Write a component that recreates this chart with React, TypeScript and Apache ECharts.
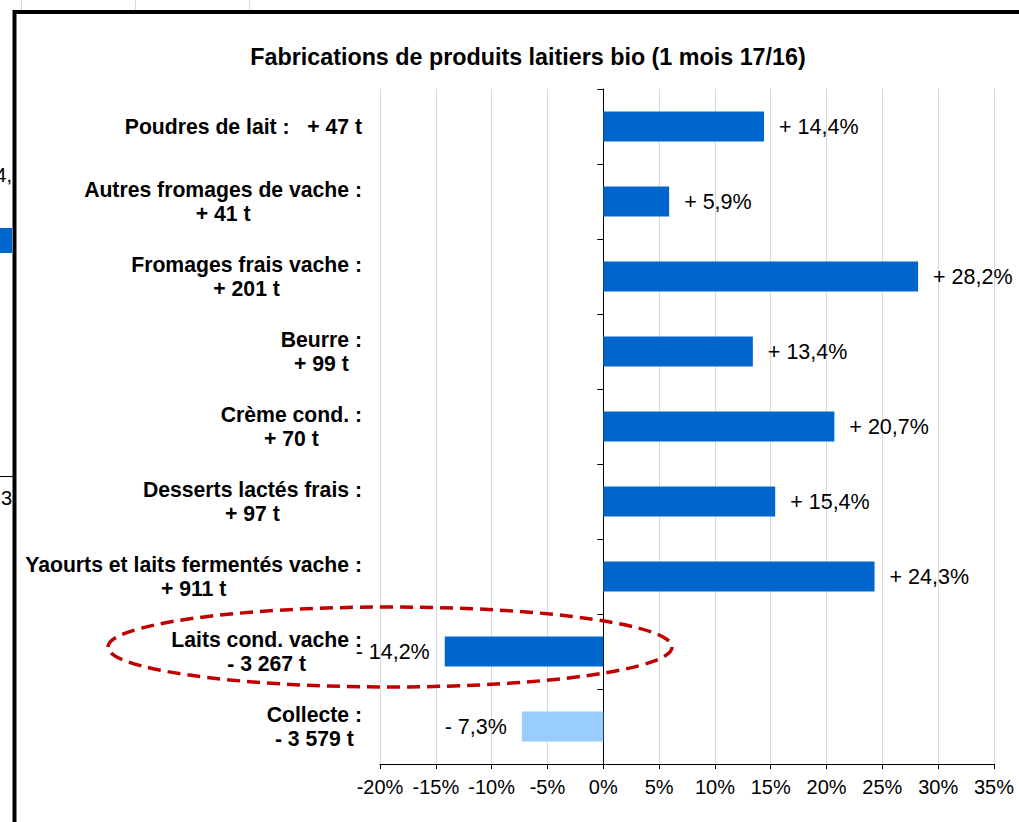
import React, { useEffect, useRef } from "react";
import * as echarts from "echarts";

const chartTitle = "Fabrications de produits laitiers bio (1 mois 17/16)";

const categories = [
  "Poudres de lait :   + 47 t",
  "Autres fromages de vache :\n+ 41 t",
  "Fromages frais vache :\n+ 201 t",
  "Beurre :\n+ 99 t",
  "Crème cond. :\n+ 70 t",
  "Desserts lactés frais :\n+ 97 t",
  "Yaourts et laits fermentés vache :\n+ 911 t",
  "Laits cond. vache :\n- 3 267 t",
  "Collecte :\n- 3 579 t",
];

const values = [14.4, 5.9, 28.2, 13.4, 20.7, 15.4, 24.3, -14.2, -7.3];

const barColors = [
  "#0066CC",
  "#0066CC",
  "#0066CC",
  "#0066CC",
  "#0066CC",
  "#0066CC",
  "#0066CC",
  "#0066CC",
  "#99CCFF",
];

const axisMin = -20;
const axisMax = 35;
const axisStep = 5;

const FONT = "'Liberation Sans', Arial, Helvetica, sans-serif";

export default function App() {
  const ref = useRef<HTMLDivElement>(null);

  useEffect(() => {
    document.body.style.margin = "0";
    const el = ref.current;
    if (!el) return;
    const chart = echarts.init(el, null, { renderer: "svg" });

    const fmtPct = (v: number) =>
      (v >= 0 ? "+ " : "- ") + Math.abs(v).toFixed(1).replace(".", ",") + "%";

    const option: any = {
      animation: false,
      backgroundColor: "#ffffff",
      textStyle: { fontFamily: FONT, color: "#000" },
      title: {
        text: chartTitle,
        left: 523,
        top: 40,
        textAlign: "center",
        textStyle: {
          fontFamily: FONT,
          fontSize: 23.3,
          fontWeight: "bold",
          color: "#000",
        },
      },
      grid: { left: 380, right: 25, top: 89, bottom: 58, containLabel: false },
      xAxis: {
        type: "value",
        min: axisMin,
        max: axisMax,
        interval: axisStep,
        axisLine: { show: true, onZero: false, lineStyle: { color: "#000", width: 1 } },
        axisTick: { show: true, length: 5, lineStyle: { color: "#000" } },
        axisLabel: {
          formatter: (v: number) => `${v}%`,
          fontFamily: FONT,
          fontSize: 20,
          color: "#000",
          margin: 13,
        },
        splitLine: { show: true, lineStyle: { color: "#D9D9D9", width: 1 } },
      },
      yAxis: [
        {
          type: "category",
          data: categories,
          inverse: true,
          position: "left",
          axisLine: { show: false, onZero: false },
          axisTick: { show: false },
          splitLine: { show: false },
          axisLabel: {
            align: "right",
            margin: 18,
            interval: 0,
            formatter: (v: string) =>
              v
                .split("\n")
                .map((l) => `{c|${l}}`)
                .join("\n"),
            rich: {
              c: {
                align: "center",
                fontFamily: FONT,
                fontWeight: "bold",
                fontSize: 21.2,
                lineHeight: 24,
                color: "#000",
              },
            },
          },
        },
        {
          type: "category",
          data: categories,
          inverse: true,
          position: "left",
          axisLine: { show: true, onZero: true, lineStyle: { color: "#000", width: 1 } },
          axisTick: { show: true, length: 6, inside: false, lineStyle: { color: "#000" } },
          axisLabel: { show: false },
          splitLine: { show: false },
        },
      ],
      series: [
        {
          type: "bar",
          yAxisIndex: 0,
          barWidth: 30,
          data: values.map((v, i) => ({
            value: v,
            itemStyle: { color: barColors[i] },
            label: { position: v < 0 ? "left" : "right" },
          })),
          label: {
            show: true,
            distance: 15,
            fontFamily: FONT,
            fontSize: 21.5,
            color: "#000",
            formatter: (p: any) => fmtPct(p.value),
          },
        },
      ],
      graphic: [
        {
          type: "ellipse",
          z: 100,
          shape: { cx: 390, cy: 647, rx: 282, ry: 40 },
          style: {
            fill: "none",
            stroke: "#C00000",
            lineWidth: 3.5,
            lineDash: [13, 7],
          },
        },
        {
          type: "rect",
          z: 100,
          shape: { x: 14.5, y: 12, width: 1100, height: 900 },
          style: { fill: "none", stroke: "#000", lineWidth: 4 },
        },
        { type: "line", z: 100, shape: { x1: 21.5, y1: 0, x2: 21.5, y2: 10 }, style: { stroke: "#D9D9D9", lineWidth: 1 } },
        { type: "line", z: 100, shape: { x1: 135.5, y1: 0, x2: 135.5, y2: 10 }, style: { stroke: "#D9D9D9", lineWidth: 1 } },
        { type: "line", z: 100, shape: { x1: 249.5, y1: 0, x2: 249.5, y2: 10 }, style: { stroke: "#D9D9D9", lineWidth: 1 } },
        { type: "rect", z: 100, shape: { x: 0, y: 228, width: 12, height: 25 }, style: { fill: "#0066CC" } },
        { type: "line", z: 100, shape: { x1: 0, y1: 476.5, x2: 13, y2: 476.5 }, style: { stroke: "#000", lineWidth: 1 } },
        {
          type: "text",
          z: 100,
          x: 12,
          y: 175,
          style: { text: "4,", fontFamily: FONT, fontSize: 20, fill: "#000", align: "right", verticalAlign: "middle" },
        },
        {
          type: "text",
          z: 100,
          x: 12,
          y: 498,
          style: { text: "3", fontFamily: FONT, fontSize: 20, fill: "#000", align: "right", verticalAlign: "middle" },
        },
      ],
    };

    chart.setOption(option);
    return () => chart.dispose();
  }, []);

  return <div ref={ref} style={{ width: 1019, height: 822 }} />;
}
